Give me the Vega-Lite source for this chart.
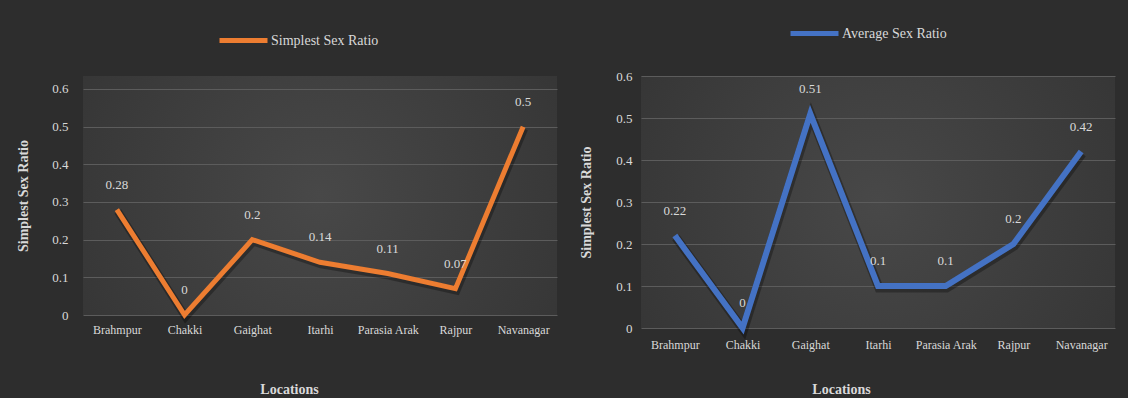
{
  "$schema": "https://vega.github.io/schema/vega-lite/v6.json",
  "background": "#2d2d2d",
  "padding": {"top": 7, "left": 16, "right": 14, "bottom": 2},
  "datasets": {
    "simplest": [
      {"location": "Brahmpur", "value": 0.28, "series": "Simplest Sex Ratio"},
      {"location": "Chakki", "value": 0, "series": "Simplest Sex Ratio"},
      {"location": "Gaighat", "value": 0.2, "series": "Simplest Sex Ratio"},
      {"location": "Itarhi", "value": 0.14, "series": "Simplest Sex Ratio"},
      {"location": "Parasia Arak", "value": 0.11, "series": "Simplest Sex Ratio"},
      {"location": "Rajpur", "value": 0.07, "series": "Simplest Sex Ratio"},
      {"location": "Navanagar", "value": 0.5, "series": "Simplest Sex Ratio"}
    ],
    "average": [
      {"location": "Brahmpur", "value": 0.22, "series": "Average Sex Ratio"},
      {"location": "Chakki", "value": 0, "series": "Average Sex Ratio"},
      {"location": "Gaighat", "value": 0.51, "series": "Average Sex Ratio"},
      {"location": "Itarhi", "value": 0.1, "series": "Average Sex Ratio"},
      {"location": "Parasia Arak", "value": 0.1, "series": "Average Sex Ratio"},
      {"location": "Rajpur", "value": 0.2, "series": "Average Sex Ratio"},
      {"location": "Navanagar", "value": 0.42, "series": "Average Sex Ratio"}
    ]
  },
  "config": {
    "font": "Liberation Serif",
    "view": {
      "stroke": null,
      "fill": {
        "gradient": "radial", "x1": 0.5, "y1": 0.5, "r1": 0, "x2": 0.5, "y2": 0.5, "r2": 0.8,
        "stops": [{"offset": 0, "color": "#484848"}, {"offset": 1, "color": "#2f2f2f"}]
      }
    },
    "axis": {
      "labelColor": "#d9d9d9", "titleColor": "#d9d9d9",
      "labelFont": "Liberation Serif", "titleFont": "Liberation Serif",
      "labelFontSize": 12, "titleFontSize": 14, "titleFontWeight": "bold",
      "gridColor": "#5c5c5c", "gridWidth": 1, "domain": false, "ticks": false
    },
    "axisY": {"labelFontSize": 13},
    "legend": {
      "orient": "none", "direction": "horizontal", "title": null,
      "symbolType": "stroke", "symbolSize": 2304, "symbolStrokeWidth": 5,
      "labelFont": "Liberation Serif", "labelFontSize": 14, "labelColor": "#d9d9d9", "labelOffset": 1
    }
  },
  "resolve": {
    "scale": {"color": "independent", "x": "independent", "y": "independent"},
    "legend": {"color": "independent"}
  },
  "spacing": 22,
  "hconcat": [
    {
      "width": 474, "height": 239,
      "data": {"name": "simplest"},
      "encoding": {
        "x": {
          "field": "location", "type": "nominal",
          "sort": ["Brahmpur", "Chakki", "Gaighat", "Itarhi", "Parasia Arak", "Rajpur", "Navanagar"],
          "scale": {"type": "point", "padding": 0.5},
          "axis": {"title": "Locations", "labelAngle": 0, "labelPadding": 9, "titlePadding": 47, "titleX": 206}
        },
        "y": {
          "field": "value", "type": "quantitative",
          "scale": {"domain": [0, 0.6345], "nice": false, "zero": true},
          "axis": {"title": "Simplest Sex Ratio", "values": [0, 0.1, 0.2, 0.3, 0.4, 0.5, 0.6], "format": ".1~f", "labelPadding": 15, "titlePadding": 21, "grid": true}
        }
      },
      "layer": [
        {"mark": {"type": "line", "strokeWidth": 8, "color": "#000000", "opacity": 0.3, "yOffset": 2, "xOffset": 1}},
        {
          "mark": {"type": "line", "strokeWidth": 5},
          "encoding": {
            "color": {"field": "series", "type": "nominal", "scale": {"range": ["#ED7D31"]},
              "legend": {"legendX": 134, "legendY": -62}}
          }
        },
        {
          "mark": {"type": "text", "dy": -25, "fontSize": 13, "color": "#d9d9d9", "font": "Liberation Serif"},
          "encoding": {"text": {"field": "value", "type": "quantitative", "format": ".2~f"}}
        }
      ]
    },
    {
      "width": 474, "height": 252,
      "data": {"name": "average"},
      "encoding": {
        "x": {
          "field": "location", "type": "nominal",
          "sort": ["Brahmpur", "Chakki", "Gaighat", "Itarhi", "Parasia Arak", "Rajpur", "Navanagar"],
          "scale": {"type": "point", "padding": 0.5},
          "axis": {"title": "Locations", "labelAngle": 0, "labelPadding": 11, "titlePadding": 32, "titleX": 200}
        },
        "y": {
          "field": "value", "type": "quantitative",
          "scale": {"domain": [0, 0.6], "nice": false, "zero": true},
          "axis": {"title": "Simplest Sex Ratio", "values": [0, 0.1, 0.2, 0.3, 0.4, 0.5, 0.6], "format": ".1~f", "labelPadding": 9, "titlePadding": 22, "grid": true}
        }
      },
      "layer": [
        {"mark": {"type": "line", "strokeWidth": 9, "color": "#000000", "opacity": 0.3, "yOffset": 2, "xOffset": 1}},
        {
          "mark": {"type": "line", "strokeWidth": 6},
          "encoding": {
            "color": {"field": "series", "type": "nominal", "scale": {"range": ["#4472C4"]},
              "legend": {"legendX": 147, "legendY": -69}}
          }
        },
        {
          "mark": {"type": "text", "dy": -25, "fontSize": 13, "color": "#d9d9d9", "font": "Liberation Serif"},
          "encoding": {"text": {"field": "value", "type": "quantitative", "format": ".2~f"}}
        }
      ]
    }
  ]
}
